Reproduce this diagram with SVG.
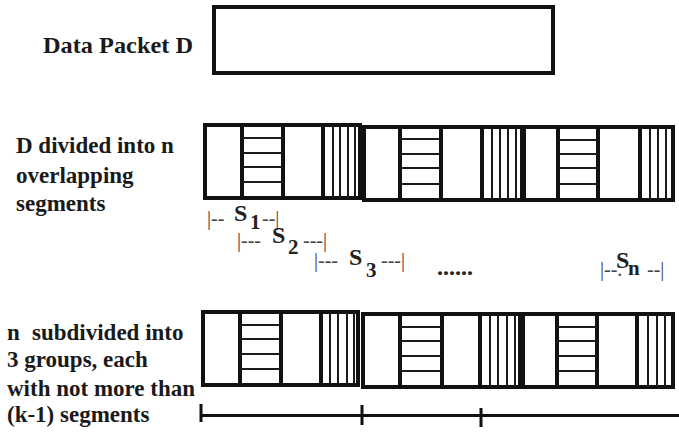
<svg xmlns="http://www.w3.org/2000/svg" width="679" height="433" viewBox="0 0 679 433">
  <style>
    .frame { fill: #fff; stroke: #111; stroke-width: 4; }
    .div { fill: none; stroke: #111; stroke-width: 4; }
    .thin { fill: none; stroke: #1a1a1a; stroke-width: 2; }
    text { font-family: 'Liberation Serif', 'DejaVu Serif', serif; }
    .label { font-weight: bold; font-size: 23px; fill: #1a1a1a; }
    .seg { font-size: 20px; fill: #444; }
    .segS { font-weight: bold; font-size: 24px; fill: #222; }
    .segSub { font-weight: bold; font-size: 21px; fill: #222; }
    .axis { fill: none; stroke: #111; stroke-width: 3; }
  </style>

  <!-- Whole packet -->
  <g id="packet">
    <text class="label" x="43" y="53" font-size="24" textLength="150" lengthAdjust="spacingAndGlyphs">Data Packet D</text>
    <rect class="frame" x="214" y="7" width="339" height="66" stroke-width="4.5"/>
  </g>

  <!-- Packet cut into overlapping segments -->
  <g id="segments">
    <text class="label" x="16" y="153">D divided into n</text>
    <text class="label" x="16" y="183">overlapping</text>
    <text class="label" x="16" y="211">segments</text>

    <g id="bar1-seg1">
      <rect class="frame" x="205" y="125" width="155" height="73"/>
      <path class="div" d="M242 125V198M283 125V198M323 125V198"/>
      <path class="thin" d="M242 138H283M242 153H283M242 167H283M242 182H283"/>
      <path class="thin" d="M333 125V198M340 125V198M348 125V198M355 125V198"/>
    </g>
    <g id="bar1-seg2">
      <rect class="frame" x="364" y="127" width="158" height="73"/>
      <path class="div" d="M400 127V200M441 127V200M482 127V200"/>
      <path class="thin" d="M400 139H441M400 154H441M400 168H441M400 184H441"/>
      <path class="thin" d="M492 127V200M500 127V200M508 127V200M516 127V200"/>
    </g>
    <g id="bar1-seg3">
      <rect class="frame" x="524" y="127" width="149" height="73"/>
      <path class="div" d="M558 127V200M598 127V200M640 127V200"/>
      <path class="thin" d="M558 140H598M558 154H598M558 168H598M558 184H598"/>
      <path class="thin" d="M650 127V200M658 127V200M666 127V200"/>
    </g>

    <!-- segment extents -->
    <text><tspan class="seg" x="207" y="225">|--</tspan><tspan class="segS" x="234" y="221">S</tspan><tspan class="segSub" x="250" y="229">1</tspan><tspan class="seg" x="262" y="225">--|</tspan></text>
    <text><tspan class="seg" x="237" y="247">|---</tspan><tspan class="segS" x="272" y="243">S</tspan><tspan class="segSub" x="288" y="254">2</tspan><tspan class="seg" x="303" y="247">---|</tspan></text>
    <text><tspan class="seg" x="314" y="267">|---</tspan><tspan class="segS" x="349" y="265">S</tspan><tspan class="segSub" x="366" y="277">3</tspan><tspan class="seg" x="381" y="267">---|</tspan></text>
    <text class="segS" x="437" y="275" font-size="16">......</text>
    <text><tspan class="seg" x="600" y="276">|--.</tspan><tspan class="segS" x="616" y="268" font-size="22">S</tspan><tspan class="segSub" x="628" y="275" font-size="20">n</tspan><tspan class="seg" x="647" y="276">--|</tspan></text>
  </g>

  <!-- Segments gathered into three groups -->
  <g id="groups">
    <text class="label" y="340"><tspan x="7">n</tspan><tspan x="32">subdivided into</tspan></text>
    <text class="label" x="7" y="367">3 groups, each</text>
    <text class="label" x="7" y="396">with not more than</text>
    <text class="label" x="7" y="422">(k-1) segments</text>

    <g id="bar2-seg1">
      <rect class="frame" x="203" y="312" width="155" height="73"/>
      <path class="div" d="M240 312V385M281 312V385M321 312V385"/>
      <path class="thin" d="M240 325H281M240 339H281M240 354H281M240 369H281"/>
      <path class="thin" d="M330 312V385M338 312V385M347 312V385M354 312V385"/>
    </g>
    <g id="bar2-seg2">
      <rect class="frame" x="363" y="314" width="157" height="73"/>
      <path class="div" d="M400 314V387M442 314V387M480 314V387"/>
      <path class="thin" d="M400 327H442M400 341H442M400 356H442M400 371H442"/>
      <path class="thin" d="M490 314V387M498 314V387M507 314V387M515 314V387"/>
    </g>
    <g id="bar2-seg3">
      <rect class="frame" x="523" y="314" width="150" height="73"/>
      <path class="div" d="M557 314V387M597 314V387M637 314V387"/>
      <path class="thin" d="M557 327H597M557 341H597M557 356H597M557 371H597"/>
      <path class="thin" d="M648 314V387M657 314V387M665 314V387"/>
    </g>
  </g>

  <!-- Group ranges -->
  <g id="connectors">
    <path class="axis" d="M201 415.5H679"/>
    <path class="axis" stroke-width="3.5" d="M201 404V422M362 405V425M481 408V427"/>
  </g>
</svg>
